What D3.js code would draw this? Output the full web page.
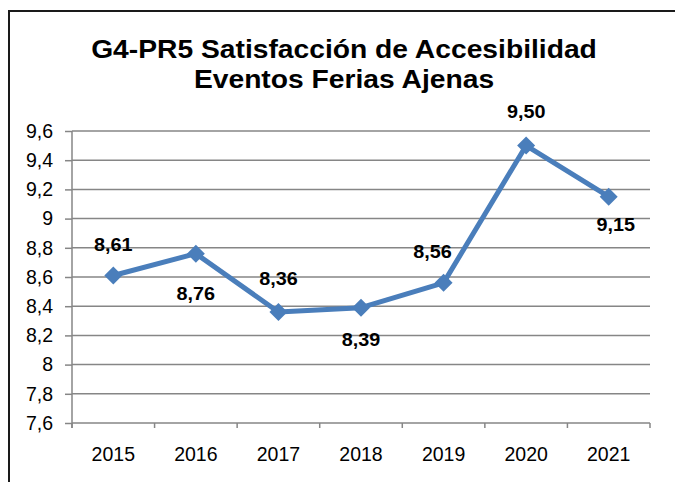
<!DOCTYPE html>
<html>
<head>
<meta charset="utf-8">
<script src="https://cdn.jsdelivr.net/npm/d3@7"></script>
<style>
  body { margin: 0; background: #fff; }
  text { font-family: "Liberation Sans", Arial, sans-serif; }
</style>
</head>
<body>
<div id="box1"></div>
<script>
"use strict";

// data
const years = ['2015', '2016', '2017', '2018', '2019', '2020', '2021'];
const values = [8.61, 8.76, 8.36, 8.39, 8.56, 9.50, 9.15];
const y_ticks = [7.6, 7.8, 8, 8.2, 8.4, 8.6, 8.8, 9, 9.2, 9.4, 9.6];
const title_lines = ['G4-PR5 Satisfacción de Accesibilidad', 'Eventos Ferias Ajenas'];

// label placement (px from the point, as in the source chart)
const label_dy = [-31, 40, -33, 32, -31, -34, 28];
const label_dx = [0, 0, 0, 0, -11, 0, 7];

const p = {
  width: 675,
  height: 482,
  left: 72,
  right: 650,
  top: 131,
  bottom: 423,
  line_color: '#4a7ebb',
  grid_color: '#868686',
  title_stretch: 1.13,  // bold text in the source is a bit wider than Arial
  label_stretch: 1.1
};

const fmt = v => d3.format('.2f')(v).replace('.', ',');
const tick_fmt = v => String(+v.toFixed(1)).replace('.', ',');

const svg = d3.select('#box1')
  .append('svg')
  .attr('width', p.width)
  .attr('height', p.height);

// outer frame (only left and top edges fall inside the picture)
svg.append('rect')
  .attr('x', 9)
  .attr('y', 11)
  .attr('width', 700)
  .attr('height', 500)
  .attr('fill', 'none')
  .attr('stroke', '#1a1a1a')
  .attr('stroke-width', 2);

// title
title_lines.forEach((t, i) => {
  svg.append('text')
    .attr('transform', `translate(344,${58 + i * 30}) scale(${p.title_stretch},1)`)
    .attr('text-anchor', 'middle')
    .attr('font-size', 25)
    .attr('font-weight', 'bold')
    .attr('fill', '#000')
    .text(t);
});

const x = d3.scaleBand()
  .domain(years)
  .range([p.left, p.right])
  .padding(0);

const y = d3.scaleLinear()
  .domain([7.6, 9.6])
  .range([p.bottom, p.top]);

const cx = d => x(d) + x.bandwidth() / 2;

// gridlines
svg.append('g')
  .selectAll('line')
  .data(y_ticks.slice(1))
  .join('line')
  .attr('x1', p.left)
  .attr('x2', p.right)
  .attr('y1', d => y(d))
  .attr('y2', d => y(d))
  .attr('stroke', p.grid_color)
  .attr('stroke-width', 1.5);

// y axis
const y_axis = svg.append('g')
  .attr('transform', `translate(${p.left},0)`)
  .call(d3.axisLeft(y).tickValues(y_ticks).tickFormat(tick_fmt).tickSize(7).tickPadding(12));
y_axis.select('.domain').attr('stroke', p.grid_color).attr('stroke-width', 1.5)
  .attr('d', `M0,${p.top}V${p.bottom + 5}`);
y_axis.selectAll('.tick line').attr('stroke', p.grid_color).attr('stroke-width', 1.5);
y_axis.selectAll('.tick text')
  .attr('font-size', 19.5)
  .attr('font-family', '"Liberation Sans", Arial, sans-serif')
  .attr('fill', '#000');

// x axis
const x_axis = svg.append('g')
  .attr('transform', `translate(0,${p.bottom})`)
  .call(d3.axisBottom(x).tickSize(0).tickPadding(24));
x_axis.select('.domain').attr('stroke', p.grid_color).attr('stroke-width', 1.5)
  .attr('d', `M${p.left},0H${p.right}`);
x_axis.selectAll('.tick text')
  .attr('font-size', 19.5)
  .attr('font-family', '"Liberation Sans", Arial, sans-serif')
  .attr('fill', '#000');

// category boundary ticks
x_axis.append('g')
  .selectAll('line')
  .data(years.concat(['end']))
  .join('line')
  .attr('x1', (d, i) => p.left + i * x.bandwidth())
  .attr('x2', (d, i) => p.left + i * x.bandwidth())
  .attr('y1', 0)
  .attr('y2', 5)
  .attr('stroke', p.grid_color)
  .attr('stroke-width', 1.5);

// series line
const series = years.map((d, i) => ({ year: d, value: values[i], i }));

svg.append('path')
  .datum(series)
  .attr('fill', 'none')
  .attr('stroke', p.line_color)
  .attr('stroke-width', 5)
  .attr('stroke-linejoin', 'round')
  .attr('d', d3.line().x(d => cx(d.year)).y(d => y(d.value)));

// diamond markers
svg.append('g')
  .selectAll('path')
  .data(series)
  .join('path')
  .attr('transform', d => `translate(${cx(d.year)},${y(d.value)})`)
  .attr('d', 'M0,-9L9,0L0,9L-9,0Z')
  .attr('fill', p.line_color);

// data labels
svg.append('g')
  .selectAll('text')
  .data(series)
  .join('text')
  .attr('transform', d => `translate(${cx(d.year) + label_dx[d.i]},${y(d.value) + label_dy[d.i]}) scale(${p.label_stretch},1)`)
  .attr('text-anchor', 'middle')
  .attr('dominant-baseline', 'central')
  .attr('font-size', 18)
  .attr('font-weight', 'bold')
  .attr('fill', '#000')
  .text(d => fmt(d.value));
</script>
</body>
</html>
